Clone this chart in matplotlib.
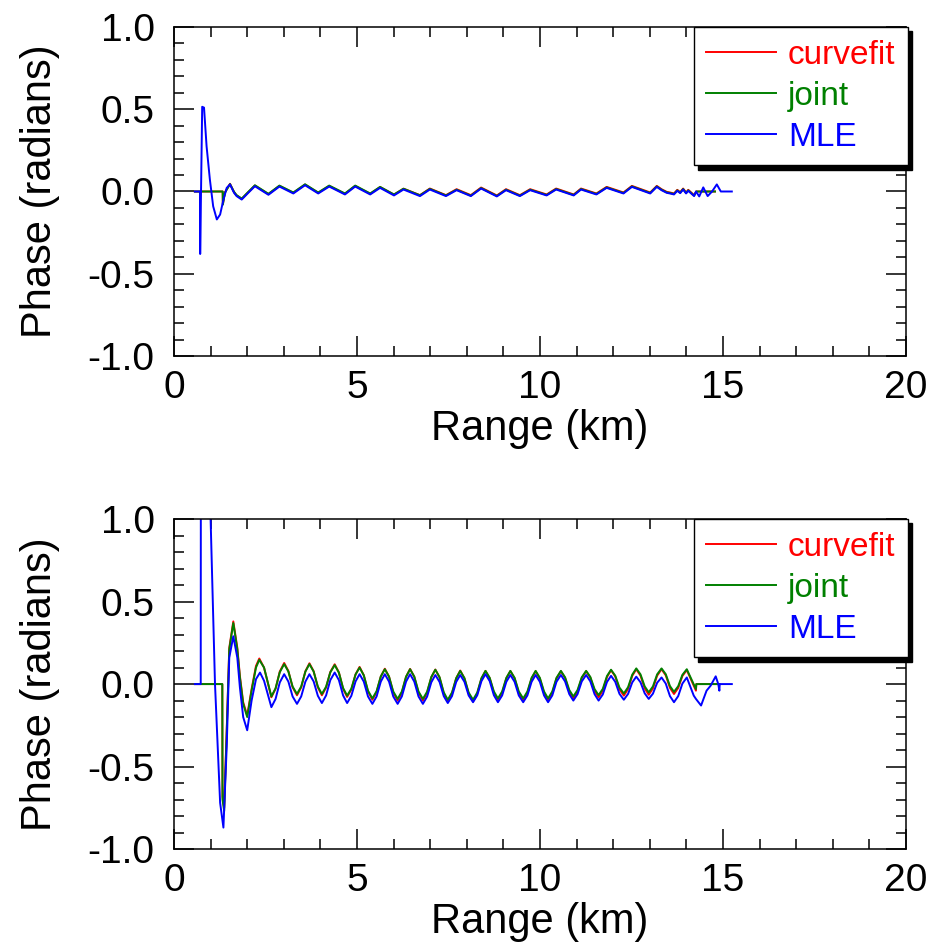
import matplotlib
matplotlib.use("Agg")
import matplotlib.pyplot as plt
from matplotlib.ticker import MultipleLocator, FormatStrFormatter

plt.rcParams["font.family"] = ["Liberation Sans", "DejaVu Sans"]
plt.rcParams["axes.unicode_minus"] = False

COLORS = {"curvefit": "#ff0000", "joint": "#008000", "MLE": "#0000ff"}

# ---------------- upper panel ----------------
# shared abscissae for the small ripple (km)
top_osc_x = [1.64, 1.71, 1.85, 2.03, 2.21, 2.58, 2.88, 3.26, 3.58, 3.94,
             4.24, 4.67, 4.95, 5.36, 5.63, 6.01, 6.27, 6.72, 6.99, 7.43,
             7.72, 8.11, 8.39, 8.82, 9.07, 9.45, 9.73, 10.18, 10.44, 10.92,
             11.12, 11.54, 11.82, 12.28, 12.51, 13.01, 13.19, 13.32, 13.46, 13.55,
             13.66, 13.75, 13.83, 13.91, 13.99, 14.05, 14.11, 14.21]
top_mle_osc = [-0.008, -0.028, -0.049, -0.008, 0.032, -0.020, 0.030, -0.012, 0.038, -0.012,
               0.030, -0.018, 0.030, -0.018, 0.022, -0.024, 0.012, -0.028, 0.012, -0.028,
               0.008, -0.028, 0.018, -0.030, 0.008, -0.028, 0.008, -0.024, 0.012, -0.024,
               0.012, -0.018, 0.022, -0.012, 0.028, -0.012, 0.028, 0.008, -0.008, -0.012,
               -0.018, 0.004, -0.010, 0.012, -0.012, 0.004, -0.008, -0.028]
top_joint_osc = [-0.002, -0.022, -0.043, -0.002, 0.038, -0.014, 0.036, -0.006, 0.044, -0.006,
                 0.036, -0.012, 0.036, -0.012, 0.028, -0.018, 0.017, -0.023, 0.016, -0.024,
                 0.011, -0.025, 0.021, -0.027, 0.011, -0.025, 0.011, -0.021, 0.015, -0.021,
                 0.015, -0.015, 0.025, -0.009, 0.031, -0.009, 0.031, 0.011, -0.005, -0.009,
                 -0.015, 0.007, -0.007, 0.015, -0.009, 0.007, -0.005, -0.025]
top_curvefit_osc = [-0.004, -0.024, -0.045, -0.004, 0.036, -0.016, 0.034, -0.008, 0.042, -0.008,
                    0.034, -0.014, 0.034, -0.014, 0.027, -0.019, 0.017, -0.022, 0.018, -0.022,
                    0.014, -0.022, 0.024, -0.024, 0.014, -0.022, 0.014, -0.018, 0.018, -0.018,
                    0.018, -0.012, 0.028, -0.006, 0.034, -0.006, 0.034, 0.014, -0.002, -0.006,
                    -0.012, 0.010, -0.004, 0.018, -0.006, 0.010, -0.002, -0.022]

top_mle_head_x = [0.57, 0.71, 0.715, 0.77, 0.82, 0.89, 0.98, 1.07, 1.17, 1.26, 1.35, 1.44, 1.53]
top_mle_head_y = [0.0, 0.0, -0.38, 0.515, 0.51, 0.275, 0.073, -0.09, -0.17, -0.14, -0.05, 0.022, 0.043]
top_mle_tail_x = [14.26, 14.35, 14.46, 14.58, 14.70, 14.83, 14.94, 15.24]
top_mle_tail_y = [0.0, -0.03, 0.025, -0.028, 0.0, 0.043, 0.0, 0.0]

top_joint_head_x = [0.57, 1.33, 1.335, 1.39, 1.53]
top_joint_head_y = [0.0, 0.0, -0.08, -0.008, 0.045]
top_joint_tail_x = [14.27, 14.78]
top_joint_tail_y = [0.0, 0.0]

top_curvefit_head_x = [0.57, 1.33, 1.335, 1.39, 1.53]
top_curvefit_head_y = [0.0, 0.0, -0.076, -0.006, 0.047]
top_curvefit_tail_x = [14.27, 14.78]
top_curvefit_tail_y = [0.0, 0.0]

# ---------------- lower panel ----------------
# steady oscillation: trough / crest plus two read-off points on each flank (km)
bot_osc_x = [2.66, 2.775, 2.89, 3.01, 3.125, 3.24, 3.36, 3.475, 3.59, 3.70,
             3.815, 3.93, 4.04, 4.155, 4.27, 4.39, 4.505, 4.62, 4.73, 4.845,
             4.96, 5.07, 5.185, 5.30, 5.42, 5.535, 5.65, 5.76, 5.875, 5.99,
             6.11, 6.225, 6.34, 6.45, 6.565, 6.68, 6.80, 6.915, 7.03, 7.14,
             7.255, 7.37, 7.48, 7.595, 7.71, 7.82, 7.935, 8.05, 8.17, 8.285,
             8.40, 8.51, 8.625, 8.74, 8.85, 8.965, 9.08, 9.19, 9.305, 9.42,
             9.54, 9.655, 9.77, 9.88, 9.995, 10.11, 10.22, 10.335, 10.45, 10.57,
             10.685, 10.80, 10.91, 11.025, 11.14, 11.26, 11.375, 11.49, 11.60, 11.715,
             11.83, 11.94, 12.055, 12.17, 12.29, 12.405, 12.52, 12.63, 12.745, 12.86,
             12.97, 13.085, 13.20, 13.32, 13.435, 13.55, 13.66, 13.775, 13.89, 14.01]
bot_joint_osc = [-0.075, -0.026, 0.072, 0.121, 0.076, -0.015, -0.060, -0.015, 0.076, 0.121,
                 0.076, -0.015, -0.060, -0.016, 0.071, 0.115, 0.069, -0.024, -0.070, -0.028,
                 0.058, 0.100, 0.053, -0.040, -0.087, -0.043, 0.046, 0.090, 0.045, -0.045,
                 -0.090, -0.045, 0.045, 0.090, 0.045, -0.045, -0.090, -0.046, 0.043, 0.087,
                 0.042, -0.050, -0.095, -0.051, 0.036, 0.080, 0.036, -0.051, -0.095, -0.051,
                 0.036, 0.080, 0.038, -0.045, -0.087, -0.045, 0.038, 0.080, 0.038, -0.045,
                 -0.087, -0.045, 0.038, 0.080, 0.038, -0.045, -0.087, -0.045, 0.038, 0.080,
                 0.041, -0.036, -0.075, -0.036, 0.041, 0.080, 0.043, -0.030, -0.067, -0.029,
                 0.049, 0.087, 0.051, -0.021, -0.057, -0.019, 0.057, 0.095, 0.059, -0.014,
                 -0.050, -0.014, 0.059, 0.095, 0.060, -0.012, -0.047, -0.013, 0.056, 0.090]
bot_curvefit_osc = [-0.080, -0.028, 0.076, 0.128, 0.079, -0.019, -0.068, -0.020, 0.078, 0.126,
                    0.078, -0.020, -0.068, -0.021, 0.073, 0.120, 0.071, -0.029, -0.078, -0.033,
                    0.059, 0.104, 0.054, -0.045, -0.095, -0.048, 0.046, 0.093, 0.045, -0.052,
                    -0.100, -0.052, 0.044, 0.092, 0.044, -0.052, -0.100, -0.053, 0.041, 0.088,
                    0.040, -0.057, -0.105, -0.058, 0.035, 0.082, 0.035, -0.058, -0.105, -0.059,
                    0.034, 0.080, 0.036, -0.054, -0.098, -0.054, 0.035, 0.079, 0.035, -0.054,
                    -0.098, -0.054, 0.034, 0.078, 0.034, -0.054, -0.098, -0.054, 0.034, 0.078,
                    0.037, -0.047, -0.088, -0.047, 0.037, 0.078, 0.039, -0.041, -0.080, -0.039,
                    0.043, 0.084, 0.046, -0.032, -0.070, -0.030, 0.050, 0.090, 0.051, -0.026,
                    -0.065, -0.026, 0.051, 0.090, 0.053, -0.023, -0.060, -0.024, 0.049, 0.085]
bot_mle_osc = [-0.140, -0.090, 0.010, 0.060, 0.015, -0.075, -0.120, -0.075, 0.015, 0.060,
               0.016, -0.071, -0.115, -0.069, 0.024, 0.070, 0.024, -0.069, -0.115, -0.071,
               0.016, 0.060, 0.015, -0.075, -0.120, -0.075, 0.015, 0.060, 0.015, -0.075,
               -0.120, -0.075, 0.015, 0.060, 0.015, -0.075, -0.120, -0.076, 0.011, 0.055,
               0.013, -0.073, -0.115, -0.073, 0.013, 0.055, 0.014, -0.069, -0.110, -0.068,
               0.018, 0.060, 0.018, -0.068, -0.110, -0.069, 0.014, 0.055, 0.014, -0.069,
               -0.110, -0.069, 0.014, 0.055, 0.014, -0.069, -0.110, -0.069, 0.014, 0.055,
               0.016, -0.061, -0.100, -0.061, 0.016, 0.055, 0.016, -0.061, -0.100, -0.063,
               0.013, 0.050, 0.014, -0.059, -0.095, -0.060, 0.010, 0.045, 0.011, -0.056,
               -0.090, -0.058, 0.008, 0.040, 0.003, -0.073, -0.110, -0.073, 0.003, 0.040]

bot_joint_head_x = [0.57, 1.32, 1.325, 1.37, 1.44, 1.51, 1.62, 1.73, 1.80, 1.89,
                    2.00, 2.12, 2.24, 2.33, 2.46]
bot_joint_head_y = [0.0, 0.0, -0.70, -0.77, -0.29, 0.21, 0.37, 0.21, 0.04, -0.12,
                    -0.20, -0.04, 0.10, 0.147, 0.10]
bot_joint_tail_x = [14.26, 14.27, 14.90]
bot_joint_tail_y = [-0.03, 0.0, 0.0]

bot_curvefit_head_x = bot_joint_head_x
bot_curvefit_head_y = [0.0, 0.0, -0.68, -0.75, -0.28, 0.22, 0.38, 0.22, 0.05, -0.11,
                       -0.19, -0.03, 0.11, 0.155, 0.10]
bot_curvefit_tail_x = [14.26, 14.27, 14.90]
bot_curvefit_tail_y = [-0.04, 0.0, 0.0]

bot_mle_head_x = [0.57, 0.73, 0.735, 0.86, 1.00, 1.12, 1.26, 1.35, 1.44, 1.51,
                  1.62, 1.73, 1.80, 1.89, 2.00, 2.12, 2.24, 2.35, 2.46]
bot_mle_head_y = [0.0, 0.0, 1.8, 2.0, 1.0, 0.0, -0.72, -0.87, -0.38, 0.16,
                  0.29, 0.16, -0.02, -0.20, -0.28, -0.10, 0.03, 0.07, 0.02]
bot_mle_tail_x = [14.20, 14.26, 14.40, 14.55, 14.66, 14.80, 14.87, 14.90, 14.91, 15.24]
bot_mle_tail_y = [-0.07, -0.09, -0.13, -0.04, -0.01, 0.047, 0.0, -0.04, 0.0, 0.0]

top_series = {
    "curvefit": (top_curvefit_head_x + top_osc_x + top_curvefit_tail_x,
                 top_curvefit_head_y + top_curvefit_osc + top_curvefit_tail_y),
    "joint": (top_joint_head_x + top_osc_x + top_joint_tail_x,
              top_joint_head_y + top_joint_osc + top_joint_tail_y),
    "MLE": (top_mle_head_x + top_osc_x + top_mle_tail_x,
            top_mle_head_y + top_mle_osc + top_mle_tail_y),
}
bot_series = {
    "curvefit": (bot_curvefit_head_x + bot_osc_x + bot_curvefit_tail_x,
                 bot_curvefit_head_y + bot_curvefit_osc + bot_curvefit_tail_y),
    "joint": (bot_joint_head_x + bot_osc_x + bot_joint_tail_x,
              bot_joint_head_y + bot_joint_osc + bot_joint_tail_y),
    "MLE": (bot_mle_head_x + bot_osc_x + bot_mle_tail_x,
            bot_mle_head_y + bot_mle_osc + bot_mle_tail_y),
}


def draw_panel(ax, series):
    for name, (x, y) in series.items():
        ax.plot(x, y, color=COLORS[name], lw=1.4, label=name)
    ax.set_xlim(0, 20)
    ax.set_ylim(-1, 1)
    ax.xaxis.set_major_locator(MultipleLocator(5))
    ax.xaxis.set_minor_locator(MultipleLocator(1))
    ax.yaxis.set_major_locator(MultipleLocator(0.5))
    ax.yaxis.set_minor_locator(MultipleLocator(0.1))
    ax.yaxis.set_major_formatter(FormatStrFormatter("%.1f"))
    ax.tick_params(which="both", direction="in", top=True, right=True,
                   labelsize=28, width=1.1, color="black")
    ax.tick_params(which="major", length=14.4)
    ax.tick_params(which="minor", length=7.2)
    ax.tick_params(axis="x", which="major", pad=10)
    ax.tick_params(axis="y", which="major", pad=14)
    for s in ax.spines.values():
        s.set_linewidth(1.1)
    ax.set_xlabel("Range (km)", fontsize=30, labelpad=2)
    ax.set_ylabel("Phase (radians)", fontsize=30, labelpad=20)
    ax.legend(loc="upper right", bbox_to_anchor=(1.003, 1.0), borderaxespad=0,
              fontsize=24, labelcolor="linecolor", handlelength=2.1,
              handletextpad=0.35, borderpad=0.38, labelspacing=0.3,
              fancybox=False, framealpha=1, edgecolor="black",
              shadow={"ox": 3, "oy": -3, "facecolor": "black",
                      "edgecolor": "black", "alpha": 1})


fig = plt.figure(figsize=(9.33, 9.48), dpi=100)
ax_top = fig.add_axes([0.1865, 0.6245, 0.7846, 0.347])
ax_bot = fig.add_axes([0.1865, 0.1044, 0.7846, 0.348])
draw_panel(ax_top, top_series)
draw_panel(ax_bot, bot_series)

fig.savefig("out.png", dpi=100)
